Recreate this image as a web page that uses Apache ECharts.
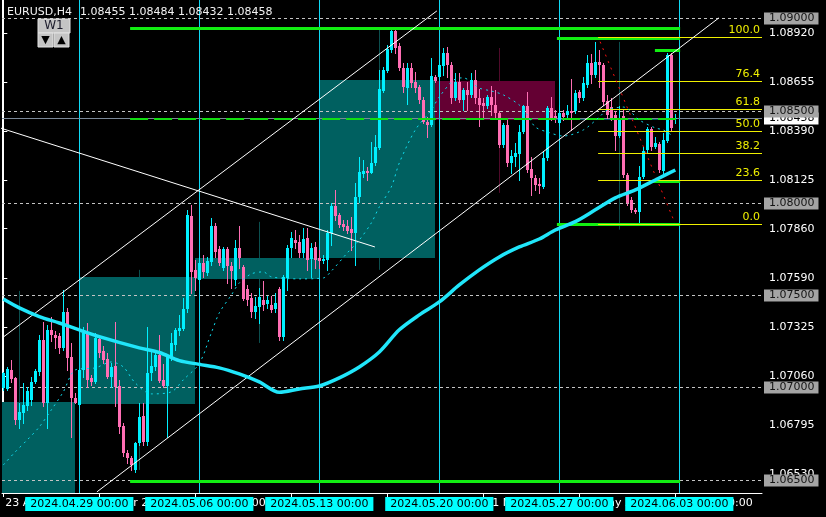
<!DOCTYPE html>
<html>
<head>
<meta charset="utf-8">
<script src="https://cdn.jsdelivr.net/npm/echarts@6/dist/echarts.min.js"></script>
<style>
  html, body { margin: 0; padding: 0; background: #000; }
  #chart { width: 826px; height: 517px; }
</style>
</head>
<body>
<div id="chart"></div>
<script>
// EURUSD H4, bar 0 = 2024.04.23 20:00, rows are [open, high, low, close]
var candles = [
  [1.06996,1.07086,1.06987,1.07077],[1.06994,1.07113,1.06987,1.07099],[1.07095,1.07146,1.07032,1.07045],[1.07050,1.07056,1.06803,1.06824],
  [1.06824,1.06915,1.06779,1.06869],[1.06864,1.07023,1.06806,1.06906],[1.06900,1.07005,1.06878,1.06978],[1.06933,1.07059,1.06906,1.07032],
  [1.07032,1.07099,1.07023,1.07090],[1.07086,1.07285,1.07068,1.07258],[1.07258,1.07357,1.06897,1.06918],[1.06918,1.07339,1.06779,1.07312],
  [1.07312,1.07384,1.07249,1.07285],[1.07285,1.07303,1.07213,1.07267],[1.07276,1.07294,1.07186,1.07213],[1.07213,1.07529,1.07204,1.07411],
  [1.07406,1.07429,1.07095,1.07158],[1.07164,1.07240,1.06734,1.06942],[1.06945,1.06969,1.06915,1.06918],[1.06906,1.07104,1.06897,1.07095],
  [1.07095,1.07330,1.07059,1.07294],[1.07294,1.07348,1.07005,1.07041],[1.07050,1.07068,1.07014,1.07032],[1.07032,1.07294,1.07023,1.07267],
  [1.07261,1.07285,1.07167,1.07189],[1.07198,1.07222,1.07131,1.07146],[1.07153,1.07186,1.07050,1.07056],[1.07056,1.07135,1.07005,1.07113],
  [1.07117,1.07357,1.06897,1.07001],[1.07009,1.07041,1.06752,1.06785],[1.06792,1.06806,1.06626,1.06647],[1.06647,1.06662,1.06590,1.06617],
  [1.06617,1.06626,1.06553,1.06580],[1.06553,1.06707,1.06544,1.06698],[1.06698,1.06915,1.06689,1.06842],[1.06846,1.06915,1.06689,1.06707],
  [1.06707,1.07330,1.06689,1.07077],[1.07077,1.07195,1.07041,1.07117],[1.07113,1.07195,1.07095,1.07177],[1.07177,1.07285,1.07032,1.07037],
  [1.07041,1.07128,1.07005,1.07009],[1.07009,1.07177,1.06734,1.07164],[1.07164,1.07294,1.07149,1.07240],[1.07231,1.07321,1.07204,1.07312],
  [1.07303,1.07393,1.07285,1.07321],[1.07316,1.07484,1.07312,1.07424],[1.07424,1.07962,1.07410,1.07935],[1.07929,1.07989,1.07510,1.07628],
  [1.07637,1.07691,1.07528,1.07591],[1.07582,1.07709,1.07564,1.07676],[1.07676,1.07718,1.07600,1.07628],[1.07622,1.07709,1.07610,1.07687],
  [1.07682,1.07916,1.07664,1.07875],[1.07875,1.07893,1.07709,1.07736],[1.07749,1.07767,1.07664,1.07676],[1.07646,1.07763,1.07637,1.07749],
  [1.07749,1.07763,1.07564,1.07658],[1.07658,1.07682,1.07537,1.07633],[1.07582,1.07799,1.07555,1.07754],[1.07754,1.07875,1.07646,1.07700],
  [1.07651,1.07664,1.07474,1.07478],[1.07532,1.07555,1.07447,1.07474],[1.07483,1.07510,1.07384,1.07411],[1.07411,1.07488,1.07375,1.07442],
  [1.07438,1.07537,1.07348,1.07488],[1.07474,1.07579,1.07420,1.07447],[1.07452,1.07496,1.07429,1.07474],[1.07447,1.07496,1.07406,1.07420],
  [1.07424,1.07510,1.07411,1.07456],[1.07532,1.07546,1.07257,1.07275],[1.07275,1.07610,1.07257,1.07597],[1.07591,1.07772,1.07528,1.07754],
  [1.07754,1.07844,1.07709,1.07808],[1.07799,1.07853,1.07754,1.07781],[1.07790,1.07826,1.07709,1.07730],[1.07730,1.07862,1.07709,1.07803],
  [1.07808,1.07862,1.07637,1.07691],[1.07694,1.07781,1.07600,1.07754],[1.07763,1.07790,1.07646,1.07691],[1.07700,1.07745,1.07646,1.07687],
  [1.07687,1.07718,1.07673,1.07694],[1.07691,1.07853,1.07637,1.07835],[1.07835,1.07998,1.07772,1.07983],[1.07983,1.08070,1.07907,1.07929],
  [1.07935,1.07944,1.07871,1.07880],[1.07886,1.07907,1.07853,1.07868],[1.07875,1.07907,1.07835,1.07850],[1.07857,1.07925,1.07745,1.07835],
  [1.07835,1.08106,1.07664,1.08030],[1.08030,1.08251,1.08007,1.08169],[1.08157,1.08232,1.08142,1.08175],[1.08175,1.08196,1.08124,1.08160],
  [1.08164,1.08327,1.08160,1.08218],[1.08214,1.08368,1.08205,1.08305],[1.08296,1.08720,1.08290,1.08615],[1.08608,1.08738,1.08603,1.08720],
  [1.08716,1.08856,1.08711,1.08832],[1.08828,1.08940,1.08819,1.08933],[1.08933,1.08951,1.08810,1.08837],[1.08850,1.08865,1.08720,1.08729],
  [1.08729,1.08756,1.08603,1.08630],[1.08621,1.08760,1.08536,1.08729],[1.08729,1.08756,1.08630,1.08648],[1.08657,1.08711,1.08603,1.08621],
  [1.08630,1.08639,1.08540,1.08558],[1.08558,1.08576,1.08431,1.08440],[1.08440,1.08467,1.08355,1.08422],[1.08422,1.08783,1.08417,1.08688],
  [1.08684,1.08693,1.08657,1.08662],[1.08684,1.08774,1.08675,1.08747],[1.08742,1.08837,1.08693,1.08810],[1.08810,1.08847,1.08684,1.08747],
  [1.08747,1.08765,1.08540,1.08567],[1.08567,1.08702,1.08558,1.08657],[1.08657,1.08702,1.08549,1.08558],[1.08558,1.08621,1.08504,1.08612],
  [1.08612,1.08657,1.08504,1.08585],[1.08585,1.08702,1.08576,1.08666],[1.08666,1.08720,1.08540,1.08567],[1.08567,1.08616,1.08417,1.08531],
  [1.08540,1.08567,1.08458,1.08522],[1.08522,1.08585,1.08513,1.08576],[1.08576,1.08634,1.08477,1.08531],[1.08531,1.08612,1.08458,1.08485],
  [1.08485,1.08495,1.08305,1.08314],[1.08314,1.08431,1.08305,1.08422],[1.08422,1.08449,1.08197,1.08215],[1.08215,1.08287,1.08161,1.08254],
  [1.08251,1.08323,1.08197,1.08269],[1.08265,1.08422,1.08124,1.08386],[1.08386,1.08531,1.08377,1.08525],[1.08525,1.08603,1.08169,1.08178],
  [1.08182,1.08251,1.08043,1.08133],[1.08133,1.08151,1.08070,1.08097],[1.08103,1.08133,1.08052,1.08092],[1.08088,1.08278,1.08079,1.08242],
  [1.08242,1.08522,1.08233,1.08513],[1.08513,1.08576,1.08449,1.08458],[1.08471,1.08504,1.08440,1.08458],[1.08435,1.08531,1.08422,1.08486],
  [1.08486,1.08504,1.08449,1.08464],[1.08477,1.08531,1.08467,1.08495],[1.08500,1.08670,1.08395,1.08486],[1.08495,1.08612,1.08486,1.08594],
  [1.08598,1.08612,1.08549,1.08567],[1.08567,1.08684,1.08558,1.08652],[1.08639,1.08802,1.08630,1.08760],[1.08760,1.08807,1.08648,1.08693],
  [1.08693,1.08874,1.08684,1.08765],[1.08765,1.08829,1.08630,1.08747],[1.08747,1.08756,1.08531,1.08549],[1.08554,1.08585,1.08458,1.08477],
  [1.08518,1.08567,1.08449,1.08458],[1.08477,1.08495,1.08287,1.08363],[1.08363,1.08522,1.08359,1.08458],[1.08471,1.08504,1.08142,1.08151],
  [1.08151,1.08160,1.07989,1.07998],[1.08016,1.08034,1.07953,1.07962],[1.07962,1.07971,1.07947,1.07953],[1.07953,1.08197,1.07890,1.08142],
  [1.08142,1.08305,1.08133,1.08283],[1.08287,1.08413,1.08269,1.08399],[1.08399,1.08413,1.08287,1.08305],[1.08305,1.08359,1.08296,1.08323],
  [1.08319,1.08332,1.08169,1.08178],[1.08175,1.08377,1.08164,1.08341],[1.08337,1.08814,1.08332,1.08802],[1.08802,1.08811,1.08395,1.08404],
  [1.08455,1.08484,1.08432,1.08458]
];

// W1 overlay: [fromBar, toBar, wickBar, open, close, high, low]
var weeks = [
  [-12.1, 17.9, 3.9, 1.0640, 1.06922, 1.07523, 1.06781],
  [18.9, 47.9, 33.9, 1.06911, 1.07599, 1.07637, 1.06553],
  [47.9, 78.9, 63.9, 1.07588, 1.07702, 1.07897, 1.07241],
  [78.9, 107.9, 93.9, 1.07702, 1.08666, 1.08937, 1.07637],
  [107.9, 137.9, 123.9, 1.08660, 1.08449, 1.08839, 1.08054],
  [137.9, 167.9, 153.9, 1.08449, 1.08458, 1.08872, 1.07855]
];

// moving averages, [bar, price]
var maSlow = [
  [0,1.07479],[4,1.07431],[9,1.07384],[14,1.07349],[19,1.07312],[24,1.07275],[34,1.07214],[39,1.07189],
  [44,1.07145],[49,1.07125],[54,1.07106],[59,1.07073],[64,1.07030],[69,1.06974],[74,1.06992],[79,1.07008],
  [84,1.07052],[89,1.07111],[94,1.07192],[99,1.07312],[104,1.07393],[109,1.07463],[114,1.07555],[119,1.07637],
  [124,1.07707],[129,1.07761],[134,1.07804],[138,1.07853],[143,1.07898],[148,1.07962],[153,1.08027],[158,1.08070],
  [163,1.08124],[168,1.08178]
];
var maFast = [
  [0,1.06580],[3,1.06651],[6,1.06716],[9,1.06786],[12,1.06878],[15,1.06976],[18,1.07095],[23,1.07106],
  [27,1.07138],[30,1.07111],[33,1.07024],[37,1.06965],[42,1.06976],[45,1.07041],[49,1.07130],[52,1.07295],
  [54,1.07404],[57,1.07500],[59,1.07566],[62,1.07615],[65,1.07626],[67,1.07599],[74,1.07588],[80,1.07593],
  [82,1.07630],[86,1.07729],[89,1.07799],[92,1.07891],[94,1.07978],[97,1.08086],[99,1.08216],[103,1.08395],
  [107,1.08503],[109,1.08574],[113,1.08671],[115,1.08677],[119,1.08622],[122,1.08606],[125,1.08585],[129,1.08530],
  [131,1.08476],[133,1.08411],[136,1.08384],[140,1.08362],[145,1.08395],[149,1.08465],[151,1.08503],[155,1.08519],
  [159,1.08449],[163,1.08406],[165,1.08395],[167,1.08368]
];

// drawn objects
var channelUpper = [[-0.3,1.07268],[108.4,1.09040]];
var channelLower = [[23.4,1.06434],[178.9,1.09002]];
var trendDown = [[-0.8,1.08406],[92.9,1.07761]];
var fibTrend = [[149.2,1.08873],[167.9,1.07891]];
var fibLevels = [0, 23.6, 38.2, 50.0, 61.8, 76.4, 100.0];
var fibLow = 1.07886, fibHigh = 1.08897, fibStartBar = 148.7;
var greenLines = [[31.7,169.2,1.08946],[31.7,169.2,1.06494],[138.4,169.2,1.08891],[162.9,169.2,1.08828],[138.4,169.2,1.07883],[162.4,169.2,1.08119]];
var greenDashed = [[31.7,169.2,1.08453]];
var hLevels = [1.065, 1.070, 1.075, 1.080, 1.085, 1.090];

// axes
var priceTicks = [1.06530,1.06795,1.07060,1.07325,1.07590,1.07860,1.08125,1.08390,1.08655,1.08920];
var timeTicks = [0,24,48,72,96,120,144,168];
var timeLabels = ['23 Apr 2024','29 Apr 20:00','3 May 20:00','9 May 20:00','15 May 20:00','21 May 20:00','27 May 20:00','31 May 20:00'];
var weekBars = [19,49,79,109,139,169];
var weekLabels = ['2024.04.29 00:00','2024.05.06 00:00','2024.05.13 00:00','2024.05.20 00:00','2024.05.27 00:00','2024.06.03 00:00'];

var yMin = 1.06428, yMax = 1.09099;
var FONT = '11px "DejaVu Sans"';
var bull = '#00f0ff', bear = '#ff6eb4';

var chart = echarts.init(document.getElementById('chart'), null, { renderer: 'canvas' });

function renderCandle(params, api) {
  var i = api.value(0), o = api.value(1), h = api.value(2), l = api.value(3), c = api.value(4);
  var pO = api.coord([i, o]), pC = api.coord([i, c]), pH = api.coord([i, h]), pL = api.coord([i, l]);
  var cx = Math.round(pO[0]);
  var col = c >= o ? bull : bear;
  var top = Math.round(Math.min(pO[1], pC[1])), bot = Math.round(Math.max(pO[1], pC[1]));
  return { type: 'group', children: [
    { type: 'line', shape: { x1: cx + 0.5, y1: Math.round(pH[1]), x2: cx + 0.5, y2: Math.round(pL[1]) + 1 }, style: { stroke: col, lineWidth: 1 } },
    { type: 'rect', shape: { x: cx - 1, y: top, width: 3, height: Math.max(1, bot - top) }, style: { fill: col } }
  ]};
}

function renderWeek(params, api) {
  var o = api.value(3), c = api.value(4);
  var up = c >= o;
  var a = api.coord([api.value(0), Math.max(o, c)]);
  var b = api.coord([api.value(1), Math.min(o, c)]);
  var wt = api.coord([api.value(2), api.value(5)]), wb = api.coord([api.value(2), api.value(6)]);
  var wx = Math.round(wt[0]) + 0.5;
  return { type: 'group', children: [
    { type: 'line', shape: { x1: wx, y1: wt[1], x2: wx, y2: wb[1] }, style: { stroke: up ? '#0b4f4f' : '#4f0a2a', lineWidth: 1 } },
    { type: 'rect', shape: { x: Math.round(a[0]), y: Math.round(a[1]), width: Math.round(b[0]) - Math.round(a[0]), height: Math.max(1, Math.round(b[1]) - Math.round(a[1])) },
      style: { fill: up ? '#006060' : '#640033' } }
  ]};
}

// week separators as 1px filled columns so the colour stays pure
function renderSeparator(params, api) {
  var p = api.coord([api.value(0), yMin]);
  var cs = params.coordSys;
  return { type: 'rect', shape: { x: Math.round(p[0]), y: cs.y, width: 1, height: cs.height }, style: { fill: '#10d8f4' } };
}

function levelRenderer(lineColor, dash, boxColor, textColor) {
  return function (params, api) {
    var v = api.value(1);
    var p = api.coord([0, v]);
    var cs = params.coordSys;
    var y = Math.round(p[1]) + 0.5;
    return { type: 'group', children: [
      { type: 'line', shape: { x1: cs.x, y1: y, x2: cs.x + cs.width, y2: y }, style: { stroke: lineColor, lineWidth: 1, lineDash: dash } },
      { type: 'text', x: cs.x + cs.width + 2, y: y, style: { text: v.toFixed(5), fill: textColor, font: FONT,
        backgroundColor: boxColor, padding: [1, 4, 0, 5], align: 'left', verticalAlign: 'middle' } }
    ]};
  };
}

function segmentRenderer(color, width, dash) {
  return function (params, api) {
    var a = api.coord([api.value(0), api.value(2)]);
    var b = api.coord([api.value(1), api.value(2)]);
    var y = Math.round(a[1]) + (width % 2 ? 0.5 : 0);
    return { type: 'line', shape: { x1: a[0], y1: y, x2: b[0], y2: y }, style: { stroke: color, lineWidth: width, lineDash: dash } };
  };
}

function renderFib(params, api) {
  var p = api.coord([api.value(0), api.value(1)]);
  var cs = params.coordSys;
  var xr = cs.x + cs.width;
  var y = Math.round(p[1]) + 0.5;
  return { type: 'group', children: [
    { type: 'line', shape: { x1: p[0], y1: y, x2: xr, y2: y }, style: { stroke: '#f0f000', lineWidth: 1 } },
    { type: 'text', x: xr - 2, y: y - 1.5, style: { text: api.value(2).toFixed(1), fill: '#f0f000', font: FONT, align: 'right', verticalAlign: 'bottom' } }
  ]};
}

function lineSeries(data, color, width, dash, z, smooth) {
  return { type: 'line', data: data, symbol: 'none', silent: true, z: z, smooth: smooth || false, clip: true,
    lineStyle: { color: color, width: width, type: dash || 'solid' } };
}

var last = candles[candles.length - 1];

chart.setOption({
  animation: false,
  backgroundColor: '#000000',
  grid: { left: 2, right: 64, top: 0, bottom: 24 },
  xAxis: {
    type: 'value', min: -0.325, max: 189.675,
    axisLine: { show: true, lineStyle: { color: '#ffffff', width: 1 } },
    axisTick: { show: true, customValues: timeTicks, length: 4, lineStyle: { color: '#ffffff' } },
    axisLabel: { customValues: timeTicks, color: '#ffffff', fontFamily: 'DejaVu Sans', fontSize: 11, align: 'left', margin: 5,
      padding: [0, 0, 0, 2], formatter: function (v) { return timeLabels[timeTicks.indexOf(v)]; } },
    splitLine: { show: false }
  },
  yAxis: [{
    type: 'value', position: 'right', min: yMin, max: yMax,
    axisLine: { show: true, lineStyle: { color: '#ffffff', width: 1 } },
    axisTick: { show: true, customValues: priceTicks, length: 4, lineStyle: { color: '#ffffff' } },
    axisLabel: { customValues: priceTicks, color: '#ffffff', fontFamily: 'DejaVu Sans', fontSize: 11, margin: 7,
      formatter: function (v) { return v.toFixed(5); } },
    splitLine: { show: false }
  }, {
    type: 'value', position: 'left', min: yMin, max: yMax,
    axisLine: { show: true, lineStyle: { color: '#ffffff', width: 1 } },
    axisTick: { show: false }, axisLabel: { show: false }, splitLine: { show: false }
  }],
  series: [
    { type: 'custom', name: 'W1', z: 1, clip: true, silent: true, renderItem: renderWeek, data: weeks, encode: { x: 0, y: 3 } },
    { type: 'custom', name: 'separators', z: 2, silent: true, renderItem: renderSeparator,
      data: weekBars.map(function (b) { return [b, yMin]; }), encode: { x: 0, y: 1 } },
    { type: 'custom', name: 'bid', z: 2, silent: true, renderItem: levelRenderer('#7a8898', null, '#ffffff', '#000000'),
      data: [[0, last[3]]], encode: { x: 0, y: 1 } },
    { type: 'custom', name: 'levels', z: 3, silent: true, renderItem: levelRenderer('#c4c4c4', [3, 3], '#a4a4a4', '#141414'),
      data: hLevels.map(function (v) { return [0, v]; }), encode: { x: 0, y: 1 } },
    { type: 'custom', name: 'EURUSD', z: 4, silent: true, clip: true, renderItem: renderCandle,
      data: candles.map(function (d, i) { return [i].concat(d); }), encode: { x: 0, y: [1, 2, 3, 4] } },
    { type: 'custom', name: 'green', z: 5, silent: true, renderItem: segmentRenderer('#12ee12', 3, null),
      data: greenLines, encode: { x: [0, 1], y: 2 } },
    { type: 'custom', name: 'greenDashed', z: 5, silent: true, renderItem: segmentRenderer('#12dd12', 2, [18, 6]),
      data: greenDashed, encode: { x: [0, 1], y: 2 } },
    { type: 'custom', name: 'fibo', z: 6, silent: true, renderItem: renderFib,
      data: fibLevels.map(function (l) { return [fibStartBar, fibLow + (fibHigh - fibLow) * l / 100, l]; }), encode: { x: 0, y: 1 } },
    lineSeries(channelUpper, '#ffffff', 1, null, 6),
    lineSeries(channelLower, '#ffffff', 1, null, 6),
    lineSeries(trendDown, '#ffffff', 1, null, 6),
    lineSeries(fibTrend, '#ff1010', 1, [2, 5], 6),
    lineSeries(maFast, '#10dcee', 1, [2, 4], 7, 0.3),
    lineSeries(maSlow, '#20e6fa', 3.5, null, 7, 0.3)
  ]
});

// header, W1 switch and week start labels (placed through the axes)
var yBottom = chart.convertToPixel({ yAxisIndex: 0 }, yMin);
var graphics = [
  { type: 'text', x: 7, y: 12, z: 100, style: { text: 'EURUSD,H4', fill: '#f2f2f2', font: FONT, verticalAlign: 'middle' } },
  { type: 'text', x: 80, y: 12, z: 100, style: { text: last.map(function (v) { return v.toFixed(5); }).join(' '), fill: '#f2f2f2', font: FONT, verticalAlign: 'middle' } },
  { type: 'rect', x: 38, y: 19, z: 100, shape: { width: 32, height: 14 }, style: { fill: '#c4c4c4', stroke: '#e2e2e2', lineWidth: 1 } },
  { type: 'text', x: 54, y: 26, z: 101, style: { text: 'W1', fill: '#1c1c2c', font: '12px "DejaVu Sans"', align: 'center', verticalAlign: 'middle' } },
  { type: 'rect', x: 38, y: 33, z: 100, shape: { width: 15, height: 14 }, style: { fill: '#c4c4c4', stroke: '#e2e2e2', lineWidth: 1 } },
  { type: 'rect', x: 54, y: 33, z: 100, shape: { width: 15, height: 14 }, style: { fill: '#c4c4c4', stroke: '#e2e2e2', lineWidth: 1 } },
  { type: 'text', x: 45.5, y: 40.5, z: 101, style: { text: '▼', fill: '#000000', font: '11px "DejaVu Sans"', align: 'center', verticalAlign: 'middle' } },
  { type: 'text', x: 61.5, y: 40.5, z: 101, style: { text: '▲', fill: '#000000', font: '11px "DejaVu Sans"', align: 'center', verticalAlign: 'middle' } }
];
weekBars.forEach(function (b, k) {
  graphics.push({ type: 'text', x: chart.convertToPixel({ xAxisIndex: 0 }, b), y: yBottom + 11, z: 100,
    style: { text: weekLabels[k], fill: '#000000', font: FONT, backgroundColor: '#00ffff', padding: [2, 5, 1, 5],
      align: 'center', verticalAlign: 'middle' } });
});
chart.setOption({ graphic: graphics });
</script>
</body>
</html>
